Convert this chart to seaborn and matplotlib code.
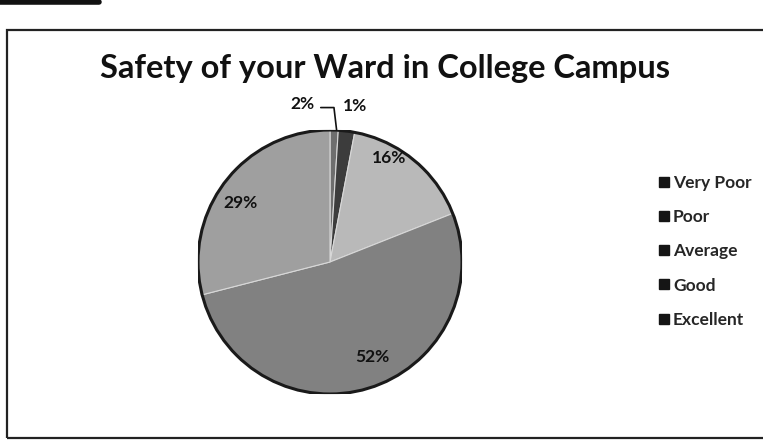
import matplotlib
matplotlib.use("Agg")
import matplotlib.pyplot as plt
import seaborn as sns
from matplotlib.lines import Line2D
from matplotlib.patches import Rectangle, Circle

# datos
categories = ["Very Poor", "Poor", "Average", "Good", "Excellent"]
percent = [1, 2, 16, 52, 29]
grays = ["#6e6e6e", "#3c3c3c", "#b9b9b9", "#818181", "#9f9f9f"]

sns.set_theme(style="white")
plt.rcParams["font.family"] = ["Lato", "DejaVu Sans"]

fig = plt.figure(figsize=(7.63, 4.48), dpi=100)
fig.patch.set_facecolor("white")

# marco del grafico
fig.patches.append(Rectangle((0.009, 0.022), 1.2, 0.911, transform=fig.transFigure,
                             fill=False, edgecolor="#222222", linewidth=1.6))
fig.add_artist(Line2D([0.0, 0.13], [0.995, 0.995], transform=fig.transFigure,
                      color="#111111", linewidth=4))

ax = fig.add_axes([198 / 763, 1 - 394 / 448, 264 / 763, 264 / 448])
wedges, texts, autotexts = ax.pie(
    percent, colors=sns.color_palette(grays), startangle=90, counterclock=False,
    autopct=lambda p: f"{p:.0f}%", pctdistance=0.8,
    wedgeprops=dict(edgecolor="#d8d8d8", linewidth=0.8),
    textprops=dict(fontsize=12.5, fontweight="bold", color="#111111"))
ax.add_patch(Circle((0, 0), 1.0, fill=False, edgecolor="#1a1a1a", linewidth=2.2))
ax.set_xlim(-1, 1)
ax.set_ylim(-1, 1)
ax.set_aspect("equal")
ax.axis("off")

# posiciones de las etiquetas como en el original
label_pos = [(0.19, 1.18), (-0.21, 1.20), (0.45, 0.79), (0.32, -0.72), (-0.68, 0.45)]
for t, (x, y) in zip(autotexts, label_pos):
    t.set_position((x, y))
    t.set_clip_on(False)
ax.plot([-0.07, 0.03, 0.05], [1.17, 1.17, 1.0], color="#111111", linewidth=1.2, clip_on=False)

fig.text(0.505, 0.848, "Safety of your Ward in College Campus", ha="center", va="center",
         fontsize=23.5, fontweight="bold", color="#111111")

handles = [Line2D([], [], marker="s", linestyle="", color="#151515", markersize=7)
           for _ in categories]
fig.legend(handles, categories, loc="upper left", bbox_to_anchor=(0.848, 0.629),
           frameon=False, prop=dict(size=12.5, weight="bold"), labelspacing=1.05,
           handletextpad=0.1, handlelength=0.9, borderpad=0)

fig.savefig("out.png", dpi=100)
